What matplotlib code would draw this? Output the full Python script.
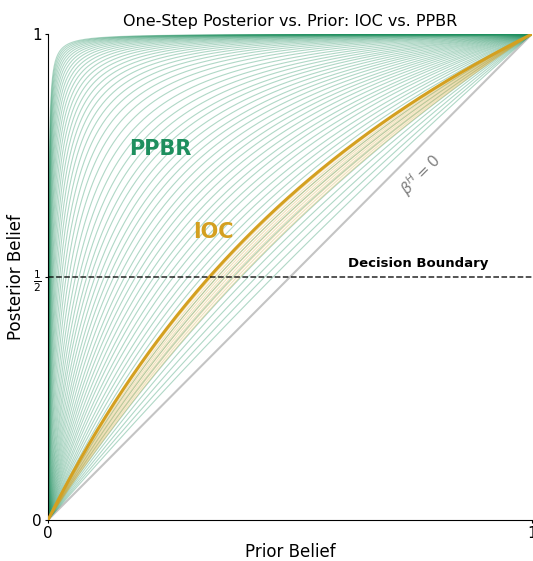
import numpy as np
import matplotlib
matplotlib.use("Agg")
import matplotlib.pyplot as plt

ppbr_log_lr = [7.0, 6.85, 6.7, 6.55, 6.4, 6.25, 6.1, 5.95, 5.8, 5.65, 5.5, 5.35, 5.2,
               5.05, 4.9, 4.75, 4.6, 4.45, 4.3, 4.15, 4.0, 3.85, 3.7, 3.55, 3.4, 3.25,
               3.1, 2.95, 2.81, 2.68, 2.56, 2.44, 2.34, 2.23, 2.13, 2.03, 1.94, 1.85,
               1.76, 1.67, 1.59, 1.51, 1.43, 1.35, 1.27, 1.2, 1.12, 1.05, 0.97, 0.9,
               0.83, 0.76, 0.69, 0.62, 0.55, 0.48, 0.41, 0.35, 0.28, 0.21, 0.14]
# IOC curves: thin family and the limiting (thick) curve
ioc_log_lr = [0.67, 0.645, 0.62, 0.595, 0.57, 0.545, 0.52, 0.495, 0.47, 0.445, 0.42]
ioc_limit_log_lr = 0.693

green = '#1e8f5e'
gold = '#d4a020'

prior = np.linspace(0, 1, 400)


def posterior(b, log_lr):
    lr = np.exp(log_lr)
    return b * lr / (b * lr + (1 - b))


fig = plt.figure(figsize=(5.33, 5.61), dpi=100)
ax = fig.add_axes([48 / 533, 41 / 561, 484 / 533, 486 / 561])

ax.plot([0, 1], [0, 1], color='#c4c4c4', lw=1.5, zorder=1)

for k in ppbr_log_lr:
    ax.plot(prior, posterior(prior, k), color=green, lw=0.8, alpha=0.35, zorder=2)

for k in ioc_log_lr:
    ax.plot(prior, posterior(prior, k), color=gold, lw=0.8, alpha=0.3, zorder=3)
ax.plot(prior, posterior(prior, ioc_limit_log_lr), color=gold, lw=2.2, zorder=4)

ax.axhline(0.5, color='black', ls='--', lw=1.1, alpha=0.85, zorder=5)

ax.text(0.764, 0.52, 'Decision Boundary', fontsize=9.5, fontweight='bold',
        ha='center', va='baseline')
ax.text(0.233, 0.763, 'PPBR', fontsize=15, fontweight='bold', color=green,
        ha='center', va='center')
ax.text(0.341, 0.593, 'IOC', fontsize=15, fontweight='bold', color=gold,
        ha='center', va='center')
ax.text(0.77, 0.71, r'$\beta^H = 0$', fontsize=11, color='gray',
        ha='center', va='center', rotation=45)

ax.set_xlim(0, 1)
ax.set_ylim(0, 1)
ax.set_xticks([0, 1])
ax.set_xticklabels(['0', '1'])
ax.set_yticks([0, 0.5, 1])
ax.set_yticklabels(['0', r'$\frac{1}{2}$', '1'])
ax.tick_params(labelsize=11, length=2.5, pad=2)
ax.spines['top'].set_visible(False)
ax.spines['right'].set_visible(False)

ax.set_title('One-Step Posterior vs. Prior: IOC vs. PPBR', fontsize=11.5, pad=6)
ax.set_xlabel('Prior Belief', fontsize=12, labelpad=1)
ax.set_ylabel('Posterior Belief', fontsize=12, labelpad=5)

fig.savefig('out.png', dpi=100)
